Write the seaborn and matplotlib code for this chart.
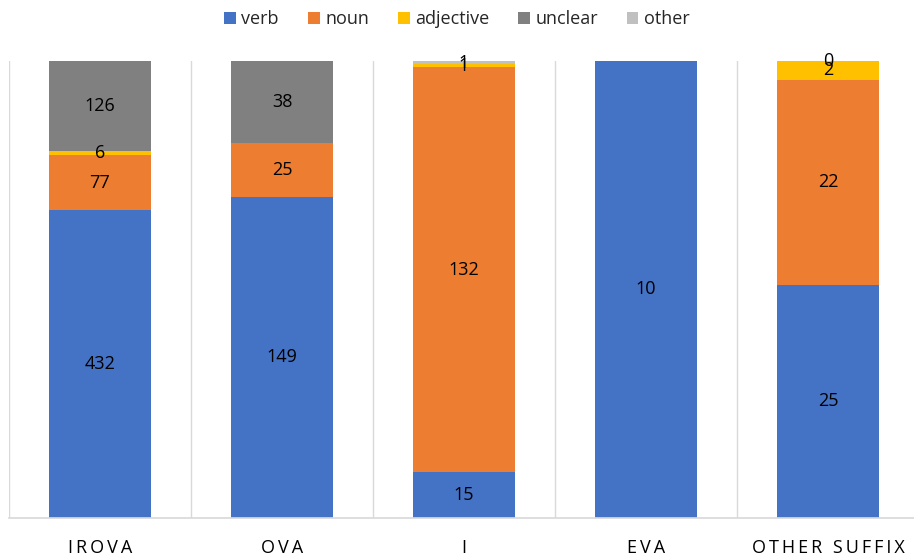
import numpy as np
import pandas as pd
import matplotlib
matplotlib.use("Agg")
import matplotlib.pyplot as plt
import seaborn as sns

categories = ["IROVA", "OVA", "I", "EVA", "OTHER SUFFIX"]
series = ["verb", "noun", "adjective", "unclear", "other"]
verb = [432, 149, 15, 10, 25]
noun = [77, 25, 132, np.nan, 22]
adjective = [6, np.nan, 1, np.nan, 2]
unclear = [126, 38, np.nan, np.nan, 0]
other = [np.nan, np.nan, 1, np.nan, np.nan]
colors = ["#4472C4", "#ED7D31", "#FFC000", "#808080", "#C0C0C0"]

sns.set_theme(style="white")
plt.rcParams["font.family"] = ["Open Sans", "DejaVu Sans"]

values = np.array([verb, noun, adjective, unclear, other], dtype=float)
filled = np.nan_to_num(values)
totals = filled.sum(axis=0)
shares = filled / totals
bottoms = np.vstack([np.zeros(len(categories)), np.cumsum(shares, axis=0)[:-1]])

fig = plt.figure(figsize=(9.14, 5.56), dpi=100)
ax = fig.add_axes([9 / 914, 1 - 518 / 556, 910 / 914, 457 / 556])

for i, name in enumerate(series):
    df = pd.DataFrame({"category": categories, "share": shares[i]})
    sns.barplot(data=df, x="category", y="share", bottom=bottoms[i],
                color=colors[i], width=0.56, saturation=1, ax=ax,
                label=name, linewidth=0)
    for j in range(len(categories)):
        v = values[i, j]
        if np.isnan(v):
            continue
        ax.text(j, bottoms[i, j] + shares[i, j] / 2, f"{int(v)}",
                ha="center", va="center", fontsize=13, color="black")

handles, labels = ax.get_legend_handles_labels()
if ax.get_legend() is not None:
    ax.get_legend().remove()

ax.set_xlim(-0.5, len(categories) - 0.5)
ax.set_ylim(0, 1)
ax.set_yticks([])
ax.set_xlabel("")
ax.set_ylabel("")
for b in np.arange(-0.5, len(categories), 1.0):
    ax.axvline(b, color="#D9D9D9", linewidth=1, zorder=0)
for s in ["top", "right", "left"]:
    ax.spines[s].set_visible(False)
ax.spines["bottom"].set_color("#D9D9D9")
ax.tick_params(axis="x", length=0, pad=15)
ax.set_xticks(range(len(categories)))
ax.set_xticklabels(["\u2009".join(c) for c in categories], fontsize=13,
                   color="black")

fig.legend(handles, labels, loc="center", bbox_to_anchor=(0.5, 1 - 19 / 556),
           ncol=5, frameon=False, fontsize=13, handlelength=0.65,
           handleheight=0.65, handletextpad=0.3, columnspacing=1.6)

fig.savefig("out.png", dpi=100)
